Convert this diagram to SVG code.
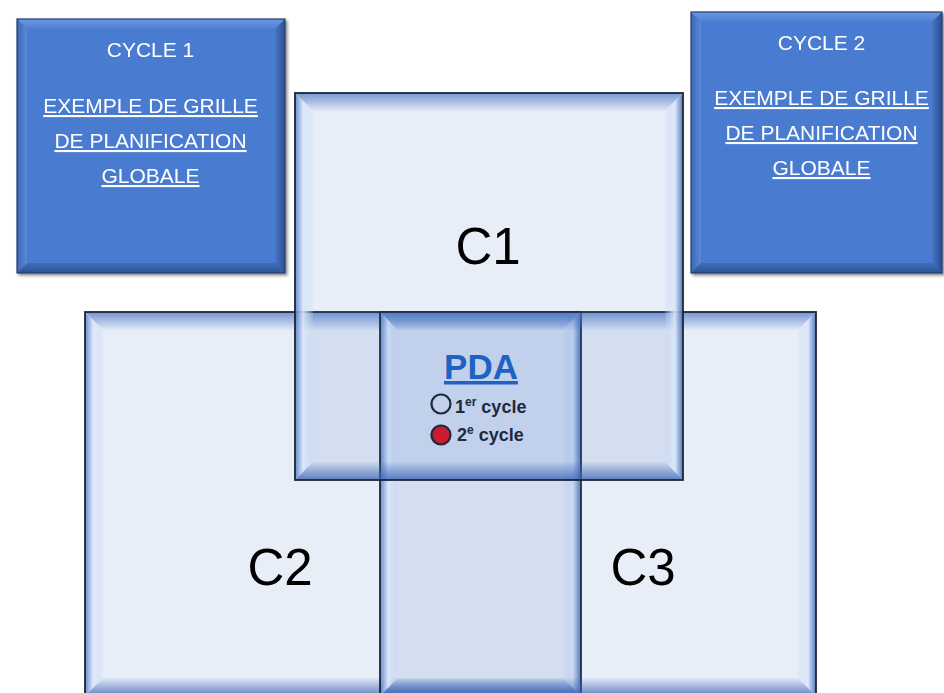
<svg xmlns="http://www.w3.org/2000/svg" width="944" height="693" viewBox="0 0 944 693">
<defs>
<linearGradient id="gTop" x1="0" y1="0" x2="0" y2="1"><stop offset="0" stop-color="#4F78C4" stop-opacity="0.75"/><stop offset="1" stop-color="#4F78C4" stop-opacity="0.05"/></linearGradient>
<linearGradient id="gBot" x1="0" y1="0" x2="0" y2="1"><stop offset="0" stop-color="#3E66B5" stop-opacity="0.05"/><stop offset="1" stop-color="#3E66B5" stop-opacity="0.8"/></linearGradient>
<linearGradient id="gLeft" x1="0" y1="0" x2="1" y2="0"><stop offset="0" stop-color="#4F78C4" stop-opacity="0.8"/><stop offset="0.45" stop-color="#DCE8FB" stop-opacity="0.9"/><stop offset="1" stop-color="#C8D6F0" stop-opacity="0.2"/></linearGradient>
<linearGradient id="gRight" x1="0" y1="0" x2="1" y2="0"><stop offset="0" stop-color="#C8D6F0" stop-opacity="0.2"/><stop offset="0.55" stop-color="#DCE8FB" stop-opacity="0.9"/><stop offset="1" stop-color="#3E66B5" stop-opacity="0.85"/></linearGradient>
<linearGradient id="dTop" x1="0" y1="0" x2="0" y2="1"><stop offset="0" stop-color="#6C97E0"/><stop offset="1" stop-color="#4F80D4"/></linearGradient>
<linearGradient id="dBot" x1="0" y1="0" x2="0" y2="1"><stop offset="0" stop-color="#3F6CBC"/><stop offset="1" stop-color="#2C5294"/></linearGradient>
<linearGradient id="dLeft" x1="0" y1="0" x2="1" y2="0"><stop offset="0" stop-color="#3D68B6"/><stop offset="1" stop-color="#5A89D8"/></linearGradient>
<linearGradient id="dRight" x1="0" y1="0" x2="1" y2="0"><stop offset="0" stop-color="#4676C8"/><stop offset="1" stop-color="#2A4E8E"/></linearGradient>
<filter id="sh" x="-5%" y="-5%" width="112%" height="112%"><feDropShadow dx="2" dy="2" stdDeviation="1.5" flood-color="#000" flood-opacity="0.45"/></filter>
</defs>
<style>
.big{fill:#4472C4;fill-opacity:0.12}
.edge{fill:none;stroke:#1B2638;stroke-width:1.8}
.dark{fill:#4A7BD0}
.dedge{fill:none;stroke:#243E6E;stroke-width:1.2}
.ct{font-family:"Liberation Sans",Arial,sans-serif;font-size:21px;fill:#FFFFFF;text-anchor:middle}
.u{text-decoration:underline}
.lab{font-family:"Liberation Sans",Arial,sans-serif;font-size:51px;fill:#000000;text-anchor:middle}
.leg{font-family:"Liberation Sans",Arial,sans-serif;font-size:18px;font-weight:bold;fill:#1E2940}
</style>
<rect width="944" height="693" fill="#FFFFFF"/>

<g id="cycle1" filter="url(#sh)">
<rect class="dark" x="17" y="19" width="268" height="254"/>
<polygon points="17,19 285,19 275,29 27,29" fill="url(#dTop)"/>
<polygon points="17,19 27,29 27,263 17,273" fill="url(#dLeft)"/>
<polygon points="285,19 285,273 275,263 275,29" fill="url(#dRight)"/>
<polygon points="17,273 285,273 275,263 27,263" fill="url(#dBot)"/>
<rect class="dedge" x="17" y="19" width="268" height="254"/>
<text class="ct" x="150.5" y="57">CYCLE 1</text>
<text class="ct u" x="150.5" y="113">EXEMPLE DE GRILLE</text>
<text class="ct u" x="150.5" y="148">DE PLANIFICATION</text>
<text class="ct u" x="150.5" y="183">GLOBALE</text>
</g>

<g id="cycle2" filter="url(#sh)">
<rect class="dark" x="691" y="12" width="251" height="261"/>
<polygon points="691,12 942,12 932,22 701,22" fill="url(#dTop)"/>
<polygon points="691,12 701,22 701,263 691,273" fill="url(#dLeft)"/>
<polygon points="942,12 942,273 932,263 932,22" fill="url(#dRight)"/>
<polygon points="691,273 942,273 932,263 701,263" fill="url(#dBot)"/>
<rect class="dedge" x="691" y="12" width="251" height="261"/>
<text class="ct" x="821.5" y="50">CYCLE 2</text>
<text class="ct u" x="821.5" y="105">EXEMPLE DE GRILLE</text>
<text class="ct u" x="821.5" y="140">DE PLANIFICATION</text>
<text class="ct u" x="821.5" y="175">GLOBALE</text>
</g>

<g id="c2">
<rect class="big" x="85" y="312" width="496" height="384"/>
<polygon points="85,312 581,312 563,330 103,330" fill="url(#gTop)"/>
<polygon points="85,312 103,330 103,678 85,696" fill="url(#gLeft)"/>
<polygon points="581,312 581,696 563,678 563,330" fill="url(#gRight)"/>
<polygon points="85,696 581,696 563,678 103,678" fill="url(#gBot)"/>
<rect class="edge" x="85" y="312" width="496" height="384"/>
<text class="lab" x="280" y="585">C2</text>
</g>

<g id="c3">
<rect class="big" x="380" y="312" width="436" height="384"/>
<polygon points="380,312 816,312 798,330 398,330" fill="url(#gTop)"/>
<polygon points="380,312 398,330 398,678 380,696" fill="url(#gLeft)"/>
<polygon points="816,312 816,696 798,678 798,330" fill="url(#gRight)"/>
<polygon points="380,696 816,696 798,678 398,678" fill="url(#gBot)"/>
<rect class="edge" x="380" y="312" width="436" height="384"/>
<text class="lab" x="643" y="585">C3</text>
</g>

<g id="c1">
<rect class="big" x="295" y="93" width="388" height="387"/>
<polygon points="295,93 683,93 665,111 313,111" fill="url(#gTop)"/>
<polygon points="295,93 313,111 313,462 295,480" fill="url(#gLeft)"/>
<polygon points="683,93 683,480 665,462 665,111" fill="url(#gRight)"/>
<polygon points="295,480 683,480 665,462 313,462" fill="url(#gBot)"/>
<rect class="edge" x="295" y="93" width="388" height="387"/>
<text class="lab" x="488" y="264">C1</text>
</g>

<g id="pda">
<text x="481" y="379" font-family="'Liberation Sans',Arial,sans-serif" font-size="35" font-weight="bold" fill="#1E63C4" text-anchor="middle" text-decoration="underline">PDA</text>
<circle cx="441" cy="404" r="9.5" fill="none" stroke="#1E2940" stroke-width="2.2"/>
<text class="leg" x="455" y="413">1<tspan font-size="12" dy="-7">er</tspan><tspan dy="7"> cycle</tspan></text>
<circle cx="441" cy="435" r="9.5" fill="#CC1A2E" stroke="#1E2940" stroke-width="2.2"/>
<text class="leg" x="457" y="441">2<tspan font-size="12" dy="-7">e</tspan><tspan dy="7"> cycle</tspan></text>
</g>

<g id="connectors"/>
</svg>
